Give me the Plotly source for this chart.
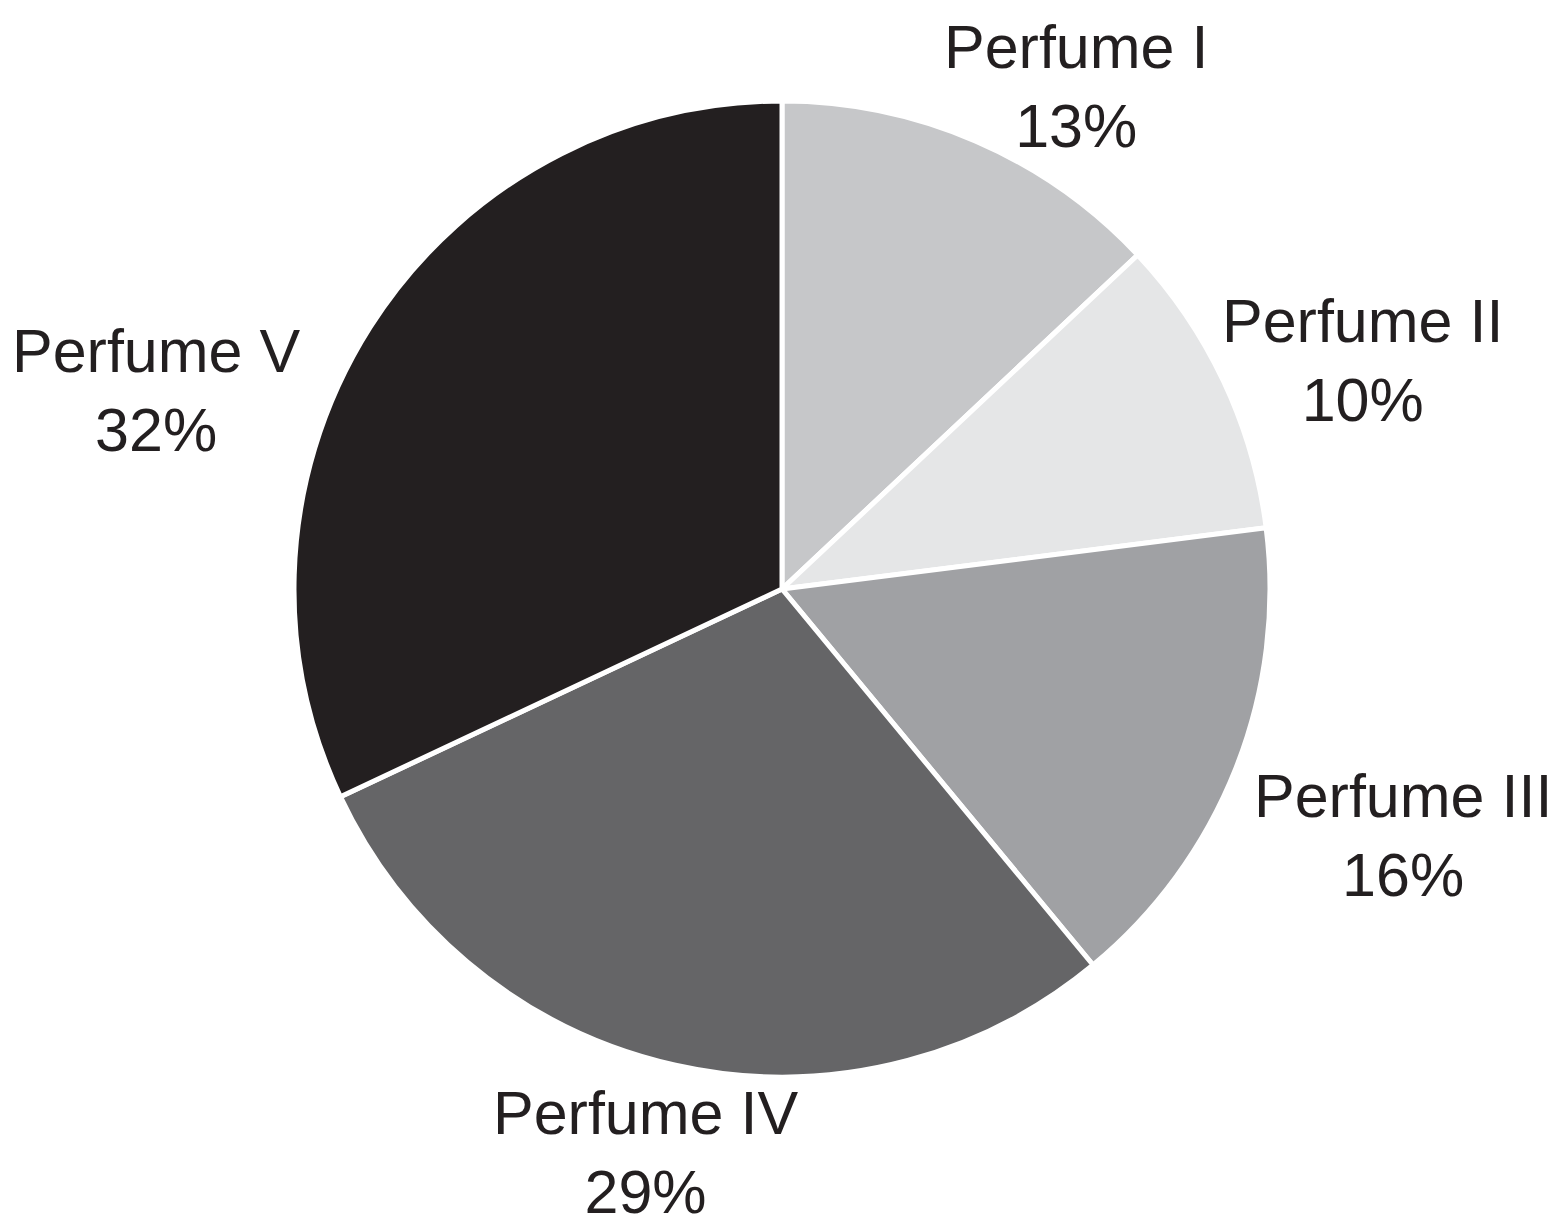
import plotly.graph_objects as go

# Market share by perfume
perfumes = ["Perfume I", "Perfume II", "Perfume III", "Perfume IV", "Perfume V"]
shares = [13, 10, 16, 29, 32]
slice_colors = ["#c6c7c9", "#e5e6e7", "#a0a1a4", "#656567", "#231f20"]

# Label anchor points in pixels (x, y from top-left)
label_px = [(1076, 86), (1362, 360), (1403, 835), (645, 1152), (156, 390)]

W, H = 1561, 1220
cx, cy, r = 782, 589, 488

fig = go.Figure(
    go.Pie(
        labels=perfumes,
        values=shares,
        sort=False,
        direction="clockwise",
        rotation=0,
        marker=dict(colors=slice_colors, line=dict(color="white", width=5)),
        textinfo="none",
        hoverinfo="label+percent",
        showlegend=False,
        domain=dict(x=[(cx - r) / W, (cx + r) / W], y=[1 - (cy + r) / H, 1 - (cy - r) / H]),
    )
)

for name, val, (px, py) in zip(perfumes, shares, label_px):
    fig.add_annotation(
        x=px / W, y=1 - py / H, xref="paper", yref="paper",
        text=f"{name}<br>{val}%", showarrow=False,
        xanchor="center", yanchor="middle", align="center",
        font=dict(family="Liberation Sans, Arial, sans-serif", size=61, color="#231f20"),
    )

fig.update_layout(
    width=W, height=H,
    margin=dict(l=0, r=0, t=0, b=0),
    paper_bgcolor="white", plot_bgcolor="white",
)

fig.write_html("out.html")
